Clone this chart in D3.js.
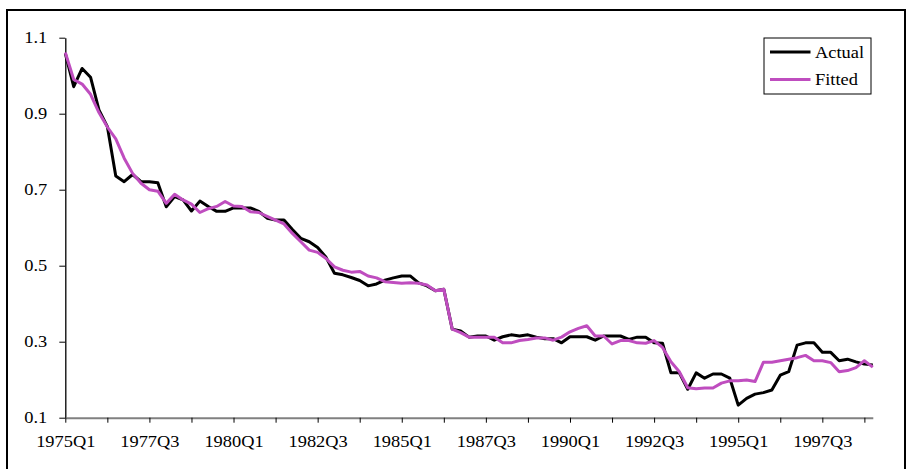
<!DOCTYPE html>
<html>
<head>
<meta charset="utf-8">
<script src="https://cdn.jsdelivr.net/npm/d3@7"></script>
<style>
    body { margin: 0; background: #fff; }
    text { font-family: "Liberation Serif", "Times New Roman", serif; font-size: 16px; fill: #000; }
</style>
</head>
<body>
<div id="visOut"></div>
<script>
// quarterly series, 1975Q1 .. 1999Q1
var actual = [
    1.059, 0.971, 1.019, 0.996, 0.910, 0.866, 0.736, 0.721, 0.740, 0.721,
    0.721, 0.718, 0.655, 0.682, 0.673, 0.644, 0.670, 0.656, 0.643, 0.643,
    0.652, 0.652, 0.652, 0.643, 0.625, 0.620, 0.620, 0.595, 0.572, 0.563,
    0.548, 0.522, 0.480, 0.476, 0.469, 0.461, 0.447, 0.452, 0.462, 0.468,
    0.473, 0.473, 0.455, 0.447, 0.434, 0.438, 0.333, 0.328, 0.312, 0.315,
    0.315, 0.304, 0.313, 0.318, 0.315, 0.318, 0.312, 0.308, 0.308, 0.297,
    0.313, 0.313, 0.313, 0.304, 0.315, 0.315, 0.315, 0.306, 0.312, 0.312,
    0.297, 0.296, 0.218, 0.218, 0.175, 0.218, 0.204, 0.215, 0.215, 0.204,
    0.133, 0.151, 0.162, 0.166, 0.173, 0.212, 0.221, 0.291, 0.297, 0.297,
    0.272, 0.272, 0.250, 0.254, 0.247, 0.241, 0.239
];
var fitted = [
    1.061, 0.990, 0.978, 0.951, 0.903, 0.865, 0.834, 0.783, 0.743, 0.717,
    0.700, 0.696, 0.664, 0.688, 0.673, 0.662, 0.640, 0.650, 0.656, 0.669,
    0.657, 0.656, 0.642, 0.640, 0.630, 0.620, 0.610, 0.585, 0.563, 0.541,
    0.535, 0.519, 0.497, 0.488, 0.483, 0.485, 0.473, 0.468, 0.458, 0.456,
    0.454, 0.455, 0.454, 0.449, 0.434, 0.438, 0.333, 0.324, 0.312, 0.312,
    0.312, 0.312, 0.297, 0.297, 0.303, 0.306, 0.310, 0.310, 0.304, 0.312,
    0.326, 0.335, 0.342, 0.315, 0.315, 0.294, 0.303, 0.303, 0.297, 0.296,
    0.303, 0.285, 0.247, 0.221, 0.179, 0.176, 0.178, 0.178, 0.191, 0.197,
    0.197, 0.199, 0.195, 0.246, 0.246, 0.250, 0.254, 0.258, 0.264, 0.250,
    0.250, 0.245, 0.221, 0.224, 0.232, 0.250, 0.233
];
var seriesNames = ["Actual", "Fitted"];
var seriesColors = ["#000000", "#bf4dbf"];
var yTicks = [0.1, 0.3, 0.5, 0.7, 0.9, 1.1];
var xTickLabels = ["1975Q1", "1977Q3", "1980Q1", "1982Q3", "1985Q1", "1987Q3", "1990Q1", "1992Q3", "1995Q1", "1997Q3"];

// category names for every quarter
var quarters = [];
for (var i = 0; i < actual.length; i++) {
    quarters.push((1975 + Math.floor(i / 4)) + "Q" + (i % 4 + 1));
}

var width = 909, height = 469;
var stretch = 1.15; // labels in the picture are a bit wide

var svg = d3.select("#visOut")
    .append("svg")
    .attr("width", width)
    .attr("height", height);

// outer frame
svg.append("rect")
    .attr("x", 7).attr("y", 10)
    .attr("width", 898).attr("height", 470)
    .attr("fill", "none")
    .attr("stroke", "#000")
    .attr("stroke-width", 2);

var x = d3.scaleLinear()
    .domain([0, quarters.length - 1])
    .range([65.3, 872.8]);
var y = d3.scaleLinear()
    .domain([0.1, 1.1])
    .range([417.7, 37.7]);

// y axis
var yAxis = svg.append("g")
    .attr("transform", "translate(65.3,0)")
    .call(d3.axisLeft(y).tickValues(yTicks).tickSize(6).tickSizeOuter(0).tickFormat(d3.format(".1f")));
yAxis.select(".domain").attr("stroke", "#000").attr("stroke-width", 1.3);
yAxis.selectAll(".tick line").attr("stroke", "#000");
yAxis.selectAll(".tick text")
    .attr("font-size", null).attr("font-family", null)
    .attr("x", null).attr("dy", null)
    .attr("text-anchor", "end")
    .attr("transform", "translate(-18,5) scale(" + stretch + ",1)");

// x axis, tick every 5 quarters, label every 10
var tickIdx = d3.range(0, quarters.length, 5);
var xAxis = svg.append("g")
    .attr("transform", "translate(0," + y(0.1) + ")")
    .call(d3.axisBottom(x).tickValues(tickIdx).tickSize(5).tickSizeOuter(0).tickFormat(function(d){
        var k = xTickLabels.indexOf(quarters[d]);
        return k >= 0 ? xTickLabels[k] : "";
    }));
xAxis.select(".domain").attr("stroke", "#808080").attr("stroke-width", 2);
xAxis.selectAll(".tick line").attr("stroke", "#000");
xAxis.selectAll(".tick text")
    .attr("font-size", null).attr("font-family", null)
    .attr("y", null).attr("dy", null)
    .attr("transform", "translate(0,29) scale(" + stretch + ",1)");

// the two lines
var line = d3.line()
    .x(function(d, i){ return x(i); })
    .y(function(d){ return y(d); });

[actual, fitted].forEach(function(s, k){
    svg.append("path")
        .datum(s)
        .attr("d", line)
        .attr("fill", "none")
        .attr("stroke", seriesColors[k])
        .attr("stroke-width", 3)
        .attr("stroke-linejoin", "round");
});

// legend
var leg = svg.append("g").attr("transform", "translate(764,38)");
leg.append("rect")
    .attr("width", 107).attr("height", 56)
    .attr("fill", "#fff")
    .attr("stroke", "#000")
    .attr("stroke-width", 1);
seriesNames.forEach(function(name, k){
    var ly = 14 + k * 27.6;
    leg.append("line")
        .attr("x1", 6).attr("x2", 46.5)
        .attr("y1", ly).attr("y2", ly)
        .attr("stroke", seriesColors[k])
        .attr("stroke-width", 3);
    leg.append("text")
        .attr("transform", "translate(51," + (ly + 5.5) + ") scale(" + stretch + ",1)")
        .text(name);
});
</script>
</body>
</html>
